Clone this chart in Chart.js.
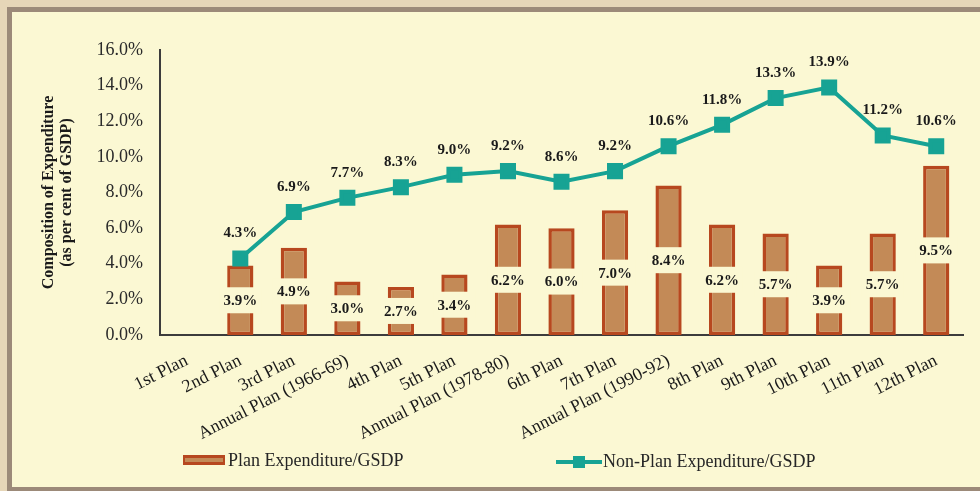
<!DOCTYPE html>
<html>
<head>
    <meta charset="utf-8" />
    <title>Composition of Expenditure</title>
    <script src="https://cdn.jsdelivr.net/npm/chart.js"></script>
    <style>
        html, body {
            margin: 0;
            padding: 0;
            width: 980px;
            height: 491px;
            overflow: hidden;
            background-color: #e6d6b8;
        }
        .frame {
            position: absolute;
            left: 7px;
            top: 7px;
            width: 1000px;
            height: 485px;
            box-sizing: border-box;
            border: 5px solid #9c8a79;
            background-color: #fbf8d3;
        }
        .chart-box {
            position: absolute;
            left: 12px;
            top: 12px;
            width: 968px;
            height: 475px;
        }
    </style>
</head>
<body>
    <div class="frame"></div>
    <div class="chart-box">
        <canvas id="expChart"></canvas>
    </div>
    <script>
        const plans = [
            '1st Plan', '2nd Plan', '3rd Plan', 'Annual Plan (1966-69)', '4th Plan', '5th Plan',
            'Annual Plan (1978-80)', '6th Plan', '7th Plan', 'Annual Plan (1990-92)', '8th Plan',
            '9th Plan', '10th Plan', '11th Plan', '12th Plan'
        ];
        const planExp = [null, 3.9, 4.9, 3.0, 2.7, 3.4, 6.2, 6.0, 7.0, 8.4, 6.2, 5.7, 3.9, 5.7, 9.5];
        const nonPlanExp = [null, 4.3, 6.9, 7.7, 8.3, 9.0, 9.2, 8.6, 9.2, 10.6, 11.8, 13.3, 13.9, 11.2, 10.6];
        const yTicks = [0, 2, 4, 6, 8, 10, 12, 14, 16];

        const CREAM = '#fbf8d3';
        const BAR_FILL = '#c38a57';
        const BAR_EDGE = '#b7481f';
        const TEAL = '#17a394';
        const SERIF = '"Liberation Serif", "Times New Roman", serif';

        // percentage labels: centred on a cream patch inside each bar, above each line point
        const valueLabels = {
            id: 'valueLabels',
            afterDatasetsDraw(chart) {
                const ctx = chart.ctx;
                ctx.save();
                ctx.font = 'bold 15px ' + SERIF;
                ctx.textAlign = 'center';
                ctx.textBaseline = 'middle';
                chart.getDatasetMeta(1).data.forEach((bar, i) => {
                    const v = planExp[i];
                    if (v == null) return;
                    const txt = v.toFixed(1) + '%';
                    const y = (bar.y + bar.base) / 2;
                    const w = ctx.measureText(txt).width + 8;
                    ctx.fillStyle = CREAM;
                    ctx.fillRect(bar.x - w / 2, y - 13, w, 26);
                    ctx.fillStyle = '#1a1a1a';
                    ctx.fillText(txt, bar.x, y + 1);
                });
                chart.getDatasetMeta(0).data.forEach((pt, i) => {
                    const v = nonPlanExp[i];
                    if (v == null) return;
                    ctx.fillStyle = '#1a1a1a';
                    ctx.fillText(v.toFixed(1) + '%', pt.x, pt.y - 25);
                });
                ctx.restore();
            },
            afterDraw(chart) {
                // legend row under the axis labels
                const ctx = chart.ctx;
                ctx.save();
                ctx.font = '18px ' + SERIF;
                ctx.textBaseline = 'middle';
                ctx.fillStyle = BAR_EDGE;
                ctx.fillRect(171, 443, 42, 10);
                ctx.fillStyle = BAR_FILL;
                ctx.fillRect(173, 446, 38, 4);
                ctx.fillStyle = '#262626';
                ctx.fillText('Plan Expenditure/GSDP', 216, 449);

                ctx.strokeStyle = TEAL;
                ctx.lineWidth = 4;
                ctx.beginPath();
                ctx.moveTo(544, 450);
                ctx.lineTo(590, 450);
                ctx.stroke();
                ctx.fillStyle = TEAL;
                ctx.fillRect(561, 444, 12, 12);
                ctx.fillStyle = '#262626';
                ctx.fillText('Non-Plan Expenditure/GSDP', 591, 450);
                ctx.restore();
            }
        };

        new Chart(document.getElementById('expChart'), {
            data: {
                labels: plans,
                datasets: [
                    {
                        type: 'line',
                        label: 'Non-Plan Expenditure/GSDP',
                        data: nonPlanExp,
                        borderColor: TEAL,
                        backgroundColor: TEAL,
                        borderWidth: 4,
                        pointStyle: 'rect',
                        pointRadius: 8.5,
                        pointHoverRadius: 8.5,
                        tension: 0,
                        order: 0
                    },
                    {
                        type: 'bar',
                        label: 'Plan Expenditure/GSDP',
                        data: planExp,
                        backgroundColor: BAR_FILL,
                        borderColor: BAR_EDGE,
                        borderWidth: 3.5,
                        borderSkipped: false,
                        barPercentage: 0.49,
                        categoryPercentage: 1,
                        order: 1
                    }
                ]
            },
            options: {
                responsive: true,
                maintainAspectRatio: false,
                animation: false,
                layout: { padding: { top: 38, right: 17, left: 0, bottom: 0 } },
                plugins: {
                    legend: { display: false },
                    tooltip: { enabled: false }
                },
                scales: {
                    x: {
                        grid: { display: false, drawTicks: false },
                        border: { display: true, color: '#3c3c3c', width: 2 },
                        ticks: {
                            color: '#1a1a1a',
                            font: { family: SERIF, size: 18 },
                            minRotation: 27,
                            maxRotation: 27,
                            padding: 15,
                            autoSkip: false
                        },
                        afterFit(scale) { scale.height = 152; }
                    },
                    y: {
                        min: 0,
                        max: 16,
                        grid: { display: false, drawTicks: false },
                        border: { display: true, color: '#3c3c3c', width: 2 },
                        afterBuildTicks(scale) {
                            scale.ticks = yTicks.map(v => ({ value: v }));
                        },
                        ticks: {
                            color: '#2a2a2a',
                            font: { family: SERIF, size: 18 },
                            padding: 17,
                            callback: v => v.toFixed(1) + '%'
                        },
                        title: {
                            display: true,
                            text: ['Composition of Expenditure', '(as per cent of GSDP)'],
                            color: '#1a1a1a',
                            font: { family: SERIF, size: 16, weight: 'bold', lineHeight: 1.1 },
                            padding: { top: 28, bottom: 0 }
                        },
                        afterFit(scale) { scale.width = 148; }
                    }
                }
            },
            plugins: [valueLabels]
        });
    </script>
</body>
</html>
